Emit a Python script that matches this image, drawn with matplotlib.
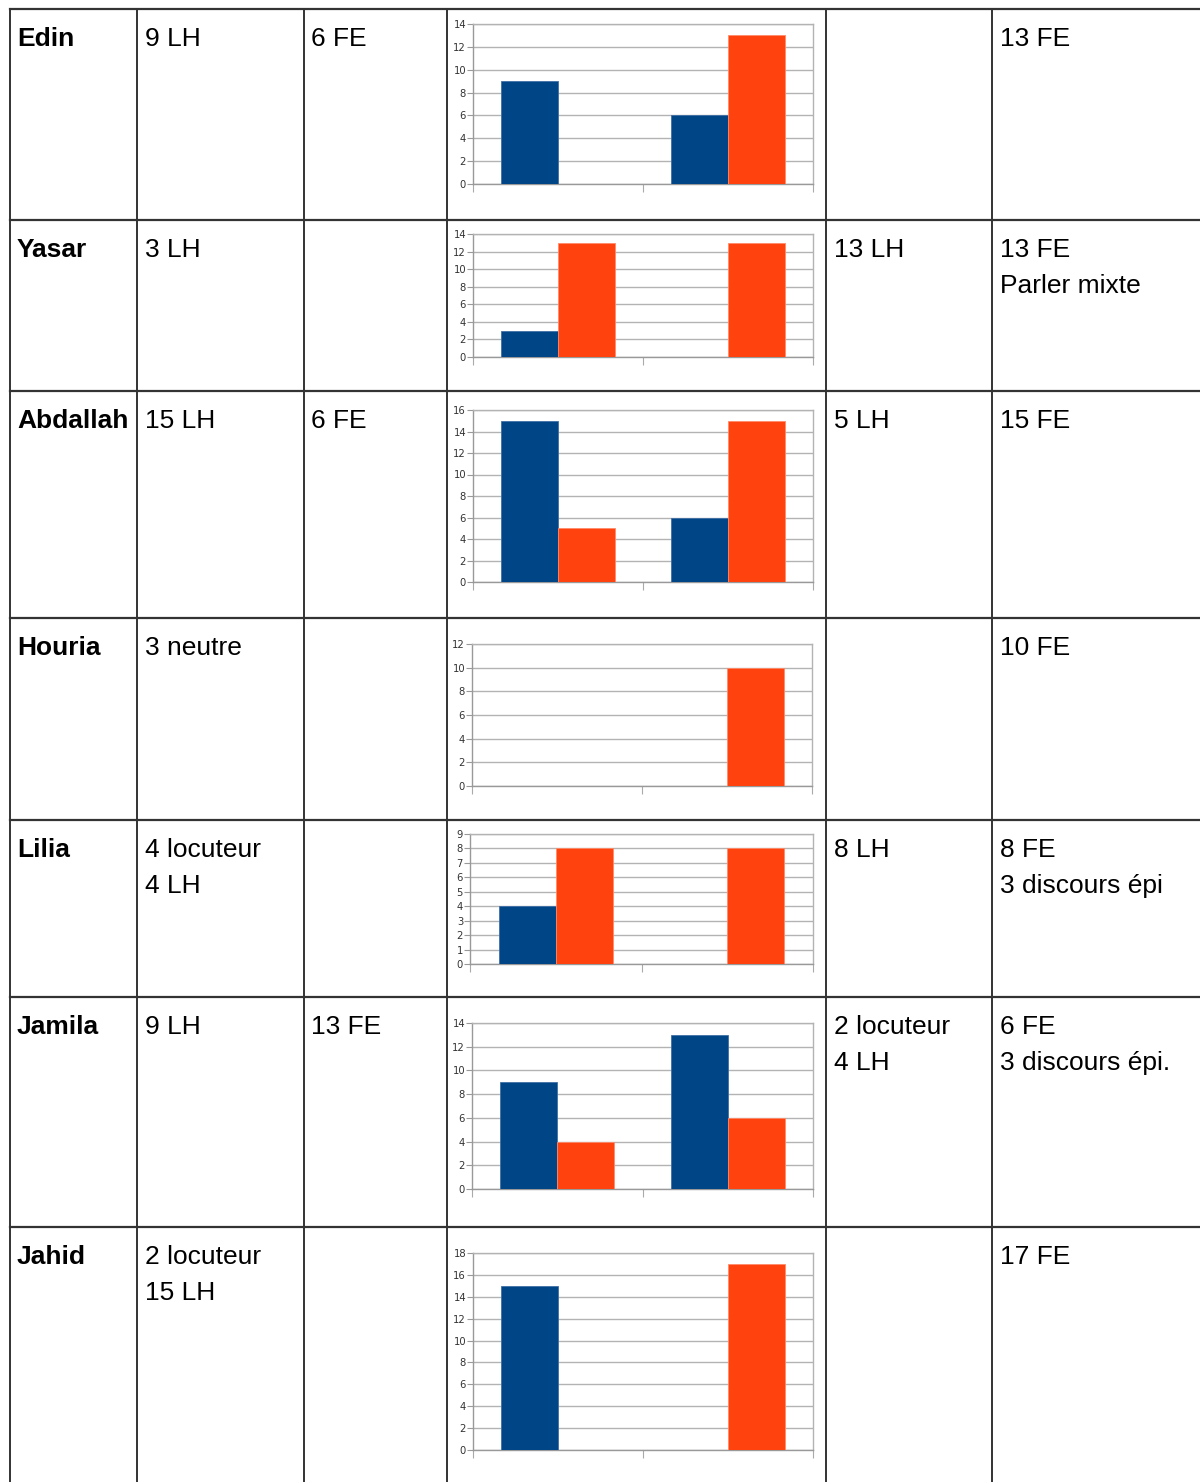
import matplotlib
matplotlib.use("Agg")
import matplotlib.pyplot as plt
from matplotlib import font_manager as fm
import numpy as np

# Table contents
names = ["Edin", "Yasar", "Abdallah", "Houria", "Lilia", "Jamila", "Jahid"]
col_lh = ["9 LH", "3 LH", "15 LH", "3 neutre", "4 locuteur\n4 LH", "9 LH", "2 locuteur\n15 LH"]
col_fe = ["6 FE", "", "6 FE", "", "", "13 FE", ""]
col_lh2 = ["", "13 LH", "5 LH", "", "8 LH", "2 locuteur\n4 LH", ""]
col_fe2 = ["13 FE", "13 FE\nParler mixte", "15 FE", "10 FE", "8 FE\n3 discours épi",
           "6 FE\n3 discours épi.", "17 FE"]

# Bar values for each row: two groups, blue series and red series
blue_vals = [[9, 6], [3, 0], [15, 6], [0, 0], [4, 0], [9, 13], [15, 0]]
red_vals = [[0, 13], [13, 13], [5, 15], [0, 10], [8, 8], [4, 6], [0, 17]]
y_max = [14, 14, 16, 12, 9, 14, 18]
y_step = [2, 2, 2, 2, 1, 2, 2]

BLUE = "#004586"
RED = "#ff420e"


# a condensed face for the small axis numbers, if one is around
def find_condensed():
    hits = []
    for f in fm.fontManager.ttflist:
        narrowish = ("Narrow" in f.name or "Condensed" in f.name
                     or f.stretch in ("condensed", "semi-condensed"))
        w = f.weight if isinstance(f.weight, int) else 400
        if narrowish and f.style == "normal" and w < 600:
            hits.append(f.fname)
    return sorted(hits)[0] if hits else None


cond_file = find_condensed()
fp_tick = fm.FontProperties(fname=cond_file) if cond_file else fm.FontProperties(family="Liberation Sans")
fp_reg = fm.FontProperties(family="Liberation Sans")
fp_bold = fm.FontProperties(family="Liberation Sans", weight="bold")
FS = 19
TICK_FS = 8

W, H = 1200, 1482
fig = plt.figure(figsize=(W / 100, H / 100), dpi=100)

# background axes in pixel coordinates for the table grid and text
bg = fig.add_axes([0, 0, 1, 1])
bg.set_xlim(0, W)
bg.set_ylim(H, 0)
bg.axis("off")

row_lines = [9, 220, 391, 618, 820, 997, 1227]
col_lines = [10, 137, 304, 447, 826, 992]
for y in row_lines:
    bg.plot([col_lines[0], W], [y, y], color="#333333", lw=1.6)
for x in col_lines:
    bg.plot([x, x], [row_lines[0], H], color="#333333", lw=1.4)

LINE = 36
BASE = 37


def cell_text(x, y, txt, bold=False):
    fp = fp_bold if bold else fp_reg
    for k, line in enumerate(txt.split("\n")):
        bg.text(x, y + BASE + k * LINE, line, fontproperties=fp, fontsize=FS,
                va="baseline", ha="left", color="black")


for i, top in enumerate(row_lines):
    cell_text(col_lines[0] + 7, top, names[i], bold=True)
    cell_text(col_lines[1] + 8, top, col_lh[i])
    cell_text(col_lines[2] + 7, top, col_fe[i])
    cell_text(col_lines[4] + 8, top, col_lh2[i])
    cell_text(col_lines[5] + 8, top, col_fe2[i])

# chart plot-area boxes in pixels: left, right, top (y max), bottom (y 0)
boxes = [
    (473, 813, 24, 184),
    (473, 813, 234, 357),
    (473, 813, 410, 582),
    (472, 812, 644, 786),
    (470, 813, 834, 964),
    (472, 813, 1023, 1189),
    (473, 813, 1253, 1450),
]

grid_c = "#b3b3b3"
x = np.arange(2)
bw = 1 / 3
for i, (l, r, t, b) in enumerate(boxes):
    ax = fig.add_axes([l / W, 1 - b / H, (r - l) / W, (b - t) / H])
    ax.bar(x - bw / 2, blue_vals[i], bw, color=BLUE, edgecolor="#3f6fa6", lw=0.6, zorder=3)
    ax.bar(x + bw / 2, red_vals[i], bw, color=RED, edgecolor="#ff8a6a", lw=0.6, zorder=3)
    ax.set_xlim(-0.5, 1.5)
    ax.set_ylim(0, y_max[i])
    ax.set_yticks(np.arange(0, y_max[i] + 1, y_step[i]))
    ax.set_xticks([-0.5, 0.5, 1.5])
    ax.set_xticklabels([])
    ax.yaxis.grid(True, color=grid_c, lw=1.0, zorder=0)
    ax.set_axisbelow(True)
    for s in ax.spines.values():
        s.set_color(grid_c)
        s.set_linewidth(1.0)
    ax.spines["left"].set_color("#999999")
    ax.spines["bottom"].set_color("#999999")
    ax.tick_params(axis="y", length=4, width=0.8, color="#999999", pad=1,
                   labelcolor="#333333")
    ax.tick_params(axis="x", length=6, width=0.8, color="#aaaaaa", direction="out")
    for lab in ax.get_yticklabels():
        lab.set_fontproperties(fp_tick)
        lab.set_fontsize(TICK_FS)

fig.savefig("out.png", dpi=100)
